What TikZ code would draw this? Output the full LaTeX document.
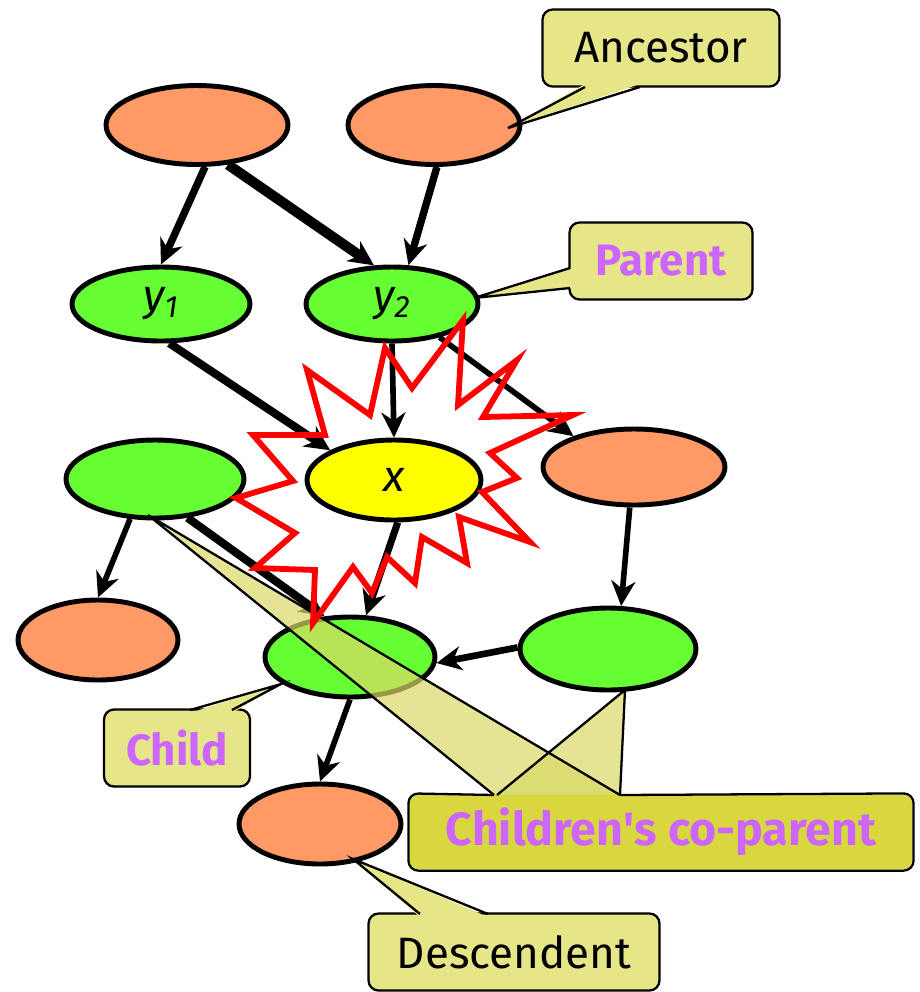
\documentclass[tikz,border=0pt]{standalone}
\usepackage{fontspec}
\setmainfont{Fira Sans}
\usetikzlibrary{shapes.geometric}
\usetikzlibrary{arrows.meta}
\usetikzlibrary{calc}
\definecolor{nodeorange}{HTML}{FF9966}
\definecolor{nodegreen}{HTML}{66FF33}
\definecolor{nodeyellow}{HTML}{FFFF00}
\definecolor{notefill}{HTML}{E6E688}
\definecolor{notedark}{HTML}{D8D83E}
\definecolor{wedgefill}{HTML}{D9D966}
\definecolor{notetext}{HTML}{CC66FF}

\begin{document}
\begin{tikzpicture}[x=0.02cm, y=-0.02cm,
  every node/.style={font=\fontsize{25}{29}\selectfont},
  bubble/.style={ellipse, draw, black, line width=2.8pt, inner sep=0pt, minimum width=3.5cm, minimum height=1.58cm},
  orangebubble/.style={bubble, fill=nodeorange},
  greenbubble/.style={bubble, fill=nodegreen},
  edge/.style={line width=3.2pt, -{Stealth[length=\l, width=\w, inset=1.6mm]}},
  heavyedge/.style={edge, line width=4.6pt},
  notebox/.style={rectangle, rounded corners=0.2cm, draw, line width=1.3pt, fill=notefill, inner sep=0pt, minimum height=1.54cm},
  noteline/.style={line width=1.3pt},
  notelabel/.style={text=notetext, font=\fontsize{25}{29}\selectfont\bfseries},
  burst/.style={draw=red, line width=3.3pt, line join=miter}]
\def\l{5mm}
\def\w{4.8mm}
\useasboundingbox (0,0) rectangle (920,992);

% the nodes
\node [orangebubble, minimum width=3.64cm, name=a1] at (197,125) {};
\node [orangebubble, minimum width=3.44cm, name=a2] at (434,125) {};
\node [greenbubble, minimum width=3.56cm, minimum height=1.48cm, name=y1] at (161,304) {\itshape y\textsubscript{1}};
\node [greenbubble, minimum width=3.44cm, minimum height=1.48cm, name=y2] at (392,304) {\itshape y\textsubscript{2}};
\node [greenbubble, minimum width=3.56cm, minimum height=1.56cm, name=c1] at (155,479) {};
\node [bubble, fill=nodeyellow, minimum width=3.48cm, minimum height=1.6cm, name=x] at (394,480) {\itshape x};
\node [orangebubble, minimum width=3.64cm, minimum height=1.52cm, name=s1] at (634,467) {};
\node [orangebubble, minimum width=3.2cm, minimum height=1.6cm, name=g1] at (98,640) {};
\node [greenbubble, minimum width=3.4cm, minimum height=1.6cm, name=c2] at (350,657) {};
\node [greenbubble, minimum width=3.52cm, minimum height=1.64cm, name=cp] at (608,649) {};
\node [orangebubble, minimum width=3.24cm, minimum height=1.6cm, name=d1] at (320,824) {};

% the arrows
\draw [heavyedge, line width=4.2pt] (a1.-79) -- (y1.north);
\draw [heavyedge, line width=5.8pt] (a1.-52) -- (y2.115);
\draw [heavyedge, line width=4.2pt] (a2.-86) -- (y2.67);
\draw [heavyedge] (y1.-78) -- (x.155);
\draw [edge] (y2.south) -- (x.north);
\draw [edge] (y2.-35) -- (s1.153);
\draw [edge] (c1.-122) -- (g1.north);
\draw [heavyedge] (c1.-50) -- (c2.122);
\draw [heavyedge, line width=4pt] (x.-85) -- (c2.69);
\draw [edge] (s1.-96) -- (cp.73);
\draw [edge, line width=3.8pt] (cp.179) -- (c2.-4);
\draw [edge] (c2.south) -- (d1.north);

% children's co-parent note
\node [notebox, draw=none, fill=notedark, minimum width=10.06cm, minimum height=1.5cm, name=cpnote] at (661,832) {};
\coordinate (cptip1) at ($(c1)+(-7,36)$);
\coordinate (cptip2) at ($(cp)+(17,41)$);
\fill [wedgefill, fill opacity=0.7] (cptip1) -- (494,795) -- (620,795) -- cycle;
\fill [wedgefill, fill opacity=0.7] (cptip2) -- (497,795) -- (620,795) -- cycle;
\draw [noteline] (494,795) -- (cptip1) -- (620,795);
\draw [noteline] (497,795) -- (cptip2) -- (620,795);
\draw [noteline, rounded corners=0.2cm] (494,795) -- (cpnote.north west) -- (cpnote.south west) -- (cpnote.south east) -- (cpnote.north east) -- (620,795);
\node [notelabel, font=\fontsize{26.5}{30}\selectfont\bfseries, name=cptext] at (cpnote) {Children\textquotesingle s co-parent};

% the burst round x
\draw [burst] (463,320) -- (458,405) -- (517,360) -- (483,417) -- (573,415) -- (490,453) -- (517,478) -- (482,492) -- (530,542) -- (459,517) -- (467,563) -- (422,537) -- (415,583) -- (387,557) -- (372,593) -- (353,567) -- (313,623) -- (315,570) -- (255,568) -- (295,533) -- (236,498) -- (293,481) -- (253,435) -- (325,435) -- (307,370) -- (370,415) -- (385,348) -- (412,388) -- cycle;

% ancestor note
\node [notebox, minimum width=4.74cm, name=ancnote] at (661,48) {Ancestor};
\coordinate (anctip) at ($(a2)+(74,3)$);
\fill [notefill] (585,84) -- (anctip) -- (640,84) -- cycle;
\draw [noteline] (585,87) -- (anctip) -- (640,87);

% parent note
\node [notebox, notelabel, minimum width=3.66cm, name=parnote] at (661,261) {Parent};
\coordinate (partip) at ($(y2)+(82,-6)$);
\fill [notefill] (573,268) -- (partip) -- (573,288) -- cycle;
\draw [noteline] (570,268) -- (partip) -- (570,288);

% child note
\node [notebox, notelabel, minimum width=2.92cm, name=chnote] at (177,748) {Child};
\coordinate (chtip) at ($(c2)+(-69,27)$);
\fill [notefill] (190,713) -- (chtip) -- (232,713) -- cycle;
\draw [noteline] (190,710) -- (chtip) -- (232,710);

% descendent note
\node [notebox, minimum width=5.82cm, name=descnote] at (514,952) {Descendent};
\coordinate (desctip) at ($(d1)+(33,35)$);
\fill [notefill] (420,917) -- (desctip) -- (488,917) -- cycle;
\draw [noteline] (420,914) -- (desctip) -- (488,914);
\end{tikzpicture}
\end{document}
